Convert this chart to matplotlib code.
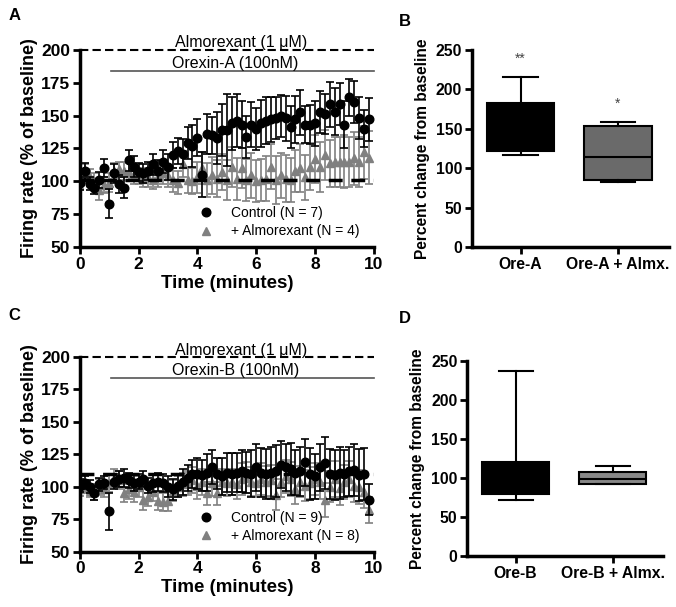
import numpy as np
import matplotlib
matplotlib.use("Agg")
import matplotlib.pyplot as plt
from matplotlib.lines import Line2D

plt.rcParams['font.family'] = ['Liberation Sans', 'DejaVu Sans']

# time points, one every 10 s
t = np.arange(60) / 6.0

# panel A: orexin-A
ctrl_a = [98.5, 108, 98, 95, 101, 110, 83, 106, 98, 95,
          116, 111, 107, 106, 108, 113, 108, 115, 111, 120,
          123, 121, 129, 127, 133, 105, 136, 135, 133, 139,
          139, 144, 146, 143, 134, 143, 140, 144, 146, 147,
          148, 149.5, 148, 141, 147, 152.5, 143, 143, 144, 152.5,
          151, 158.6, 153, 158.6, 143, 164, 160, 148, 140, 147]
ctrl_a_err = [5, 6, 5, 5, 6, 7, 11, 7, 7, 8,
              8, 8, 7, 7, 7, 8, 8, 9, 10, 10,
              10, 11, 12, 16, 14, 17, 15, 14, 20, 20,
              27, 20, 20, 18, 16, 17, 16, 18, 18, 17,
              16, 16, 17, 16, 18, 17, 14, 15, 17, 16,
              15, 17, 18, 16, 18, 14, 16, 16, 14, 16]
alm_a = [100, 106, 103, 100, 93, 97, 99, 108, 109, 108,
         107, 105, 104, 102, 103, 101, 104, 106, 104, 101,
         99, 113, 101, 100, 103, 110, 101, 104.6, 102, 107,
         101, 111, 102, 110, 101, 104.6, 100, 101, 102, 111,
         101, 104.6, 102, 101, 108, 110, 103, 111, 117, 111,
         120, 113.7, 114.5, 115, 115, 114.5, 117.5, 114.5, 122, 118]
alm_a_err = [6, 7, 6, 6, 7, 6, 7, 6, 6, 7,
             7, 7, 6, 6, 7, 7, 8, 8, 8, 9,
             9, 10, 10, 10, 12, 12, 13, 14, 14, 14,
             15, 15, 16, 15, 16, 17, 16, 16, 17, 17,
             18, 17, 18, 17, 16, 18, 17, 18, 18, 19,
             19, 18, 19, 19, 20, 19, 20, 19, 20, 20]

# panel C: orexin-B
ctrl_c = [101, 103, 100, 95, 102, 103, 81, 104, 106, 107,
          105, 103, 104, 106, 101, 103, 104, 103, 100, 98,
          101, 104, 107, 110, 110, 109, 111, 115, 110, 108,
          111, 110, 111, 112, 111, 110, 115, 111, 110, 111,
          112, 117, 115, 114, 111, 112, 119, 110, 108, 115,
          118, 110, 109, 111, 110, 112, 113, 109, 110, 90]
ctrl_c_err = [5, 5, 5, 5, 5, 5, 14, 6, 6, 7,
              6, 6, 6, 6, 6, 7, 7, 7, 8, 8,
              9, 10, 10, 11, 12, 12, 14, 13, 12, 14,
              15, 16, 15, 16, 16, 18, 18, 19, 19, 20,
              20, 18, 18, 20, 17, 19, 18, 20, 17, 18,
              20, 19, 19, 20, 18, 19, 20, 20, 20, 12]
alm_c = [98, 100, 97, 96, 100, 98, 103, 107, 105, 95,
         98, 96, 100, 90, 92, 96, 89, 88, 89, 97,
         100, 102, 103, 105, 101, 104, 95, 103, 95, 104,
         103, 104, 102, 106, 107, 104, 103, 106, 104, 105,
         94, 104, 108, 106, 98, 104, 101, 103, 106, 104,
         90, 100, 106, 99, 104, 106, 101, 100, 96, 82]
alm_c_err = [5, 5, 5, 6, 6, 6, 7, 7, 7, 7,
             7, 8, 8, 8, 7, 7, 7, 7, 8, 8,
             8, 9, 9, 10, 10, 10, 9, 10, 9, 10,
             10, 10, 11, 12, 12, 11, 11, 12, 12, 12,
             12, 12, 13, 13, 11, 12, 12, 12, 12, 13,
             13, 12, 14, 13, 13, 14, 13, 13, 12, 10]

# box plots: q1, median, q3, whisker low, whisker high
box_b_labels = ["Ore-A", "Ore-A + Almx."]
box_b = [(122, 150, 183, 117, 215), (85, 114, 153, 82, 159)]
box_b_stars = ["**", "*"]
box_b_star_y = [238, 181]
box_d_labels = ["Ore-B", "Ore-B + Almx."]
box_d = [(80, 100, 120, 72, 237), (92, 99, 108, 92, 115)]

GRAY = "#808080"


def style_axes(ax, ls=12.5):
    for s in ["top", "right"]:
        ax.spines[s].set_visible(False)
    for s in ["left", "bottom"]:
        ax.spines[s].set_linewidth(2.5)
    ax.tick_params(width=2, length=5, labelsize=ls, pad=2)
    for lab in ax.get_xticklabels() + ax.get_yticklabels():
        lab.set_fontweight("bold")


def time_panel(ax, ctrl, ctrl_err, alm, alm_err, base, drug, n1, n2):
    ax.errorbar(t, alm, yerr=alm_err, fmt="^", color=GRAY, ms=6,
                ecolor=GRAY, elinewidth=1.2, capsize=3, capthick=1.2, zorder=2)
    ax.axhline(base, color="black", lw=2.5, ls=(0, (4, 2.5)), zorder=3)
    ax.errorbar(t, ctrl, yerr=ctrl_err, fmt="o", color="black", ms=6.2,
                ecolor="black", elinewidth=1.2, capsize=3, capthick=1.2, zorder=4)
    ax.plot([0, 10], [200, 200], color="black", lw=1.5, ls=(0, (4, 2)), clip_on=False)
    ax.text(5.5, 199.5, "Almorexant (1 \u03bcM)", ha="center", va="bottom", fontsize=11.5)
    ax.plot([1.05, 10], [184, 184], color="#555555", lw=1.2, clip_on=False)
    ax.text(5.3, 184, drug, ha="center", va="bottom", fontsize=11.5)
    ax.set_xlim(0, 10)
    ax.set_ylim(50, 200)
    ax.set_xticks([0, 2, 4, 6, 8, 10])
    ax.set_yticks([50, 75, 100, 125, 150, 175, 200])
    ax.set_xlabel("Time (minutes)", fontsize=13.5, fontweight="bold", labelpad=2)
    ax.set_ylabel("Firing rate (% of baseline)", fontsize=13, fontweight="bold", labelpad=2)
    handles = [Line2D([], [], marker="o", ls="", color="black", ms=6.2),
               Line2D([], [], marker="^", ls="", color=GRAY, ms=6)]
    ax.legend(handles, [n1, n2], loc="lower left", bbox_to_anchor=(0.34, -0.02),
              frameon=False, fontsize=10, handletextpad=0.8, labelspacing=0.3)
    style_axes(ax)


def box_panel(ax, stats, labels, colors):
    bs = [dict(q1=q1, med=med, q3=q3, whislo=lo, whishi=hi, fliers=[])
          for q1, med, q3, lo, hi in stats]
    ax.bxp(bs, positions=[1, 2], widths=0.69, patch_artist=True, showfliers=False,
           boxprops=dict(linewidth=1.5, edgecolor="black"),
           medianprops=dict(color="black", linewidth=1.5),
           whiskerprops=dict(color="black", linewidth=1.5),
           capprops=dict(color="black", linewidth=1.5), capwidths=0.35)
    for patch, c in zip(ax.patches, colors):
        patch.set_facecolor(c)
    ax.set_xlim(0.5, 2.52)
    ax.set_ylim(0, 250)
    ax.set_yticks([0, 50, 100, 150, 200, 250])
    ax.set_xticks([1, 2])
    ax.set_xticklabels(labels)
    ax.set_ylabel("Percent change from baseline", fontsize=11.2, fontweight="bold", labelpad=4)
    style_axes(ax, 11.3)


fig = plt.figure(figsize=(6.76, 6.07), dpi=100)

axA = fig.add_axes([0.118, 0.593, 0.435, 0.325])
time_panel(axA, ctrl_a, ctrl_a_err, alm_a, alm_a_err, 101, "Orexin-A (100nM)",
           "Control (N = 7)", "+ Almorexant (N = 4)")

axC = fig.add_axes([0.118, 0.091, 0.435, 0.321])
time_panel(axC, ctrl_c, ctrl_c_err, alm_c, alm_c_err, 110, "Orexin-B (100nM)",
           "Control (N = 9)", "+ Almorexant (N = 8)")

axB = fig.add_axes([0.698, 0.593, 0.291, 0.325])
box_panel(axB, box_b, box_b_labels, ["black", "#6a6a6a"])
for x, s, y in zip([1, 2], box_b_stars, box_b_star_y):
    axB.text(x, y, s, ha="center", va="center", fontsize=10, color="#444444")

axD = fig.add_axes([0.691, 0.084, 0.290, 0.321])
box_panel(axD, box_d, box_d_labels, ["black", "#888888"])

for lbl, x, y in [("A", 0.012, 0.975), ("B", 0.59, 0.965), ("C", 0.012, 0.48), ("D", 0.59, 0.475)]:
    fig.text(x, y, lbl, fontsize=12, fontweight="bold", va="center")

fig.savefig("out.png", dpi=100)
